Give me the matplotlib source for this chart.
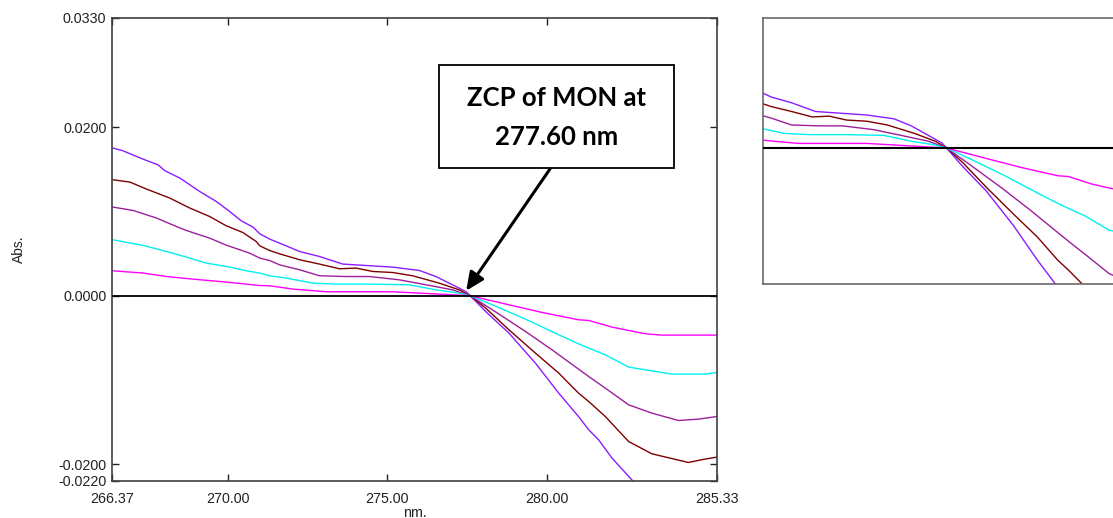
import numpy as np
import matplotlib
matplotlib.use('Agg')
import matplotlib.pyplot as plt
from matplotlib.patches import Rectangle

# ── Data (wavelength in nm, derivative Abs.) ─────────────────────────────────
violet_x = [266.40, 266.71, 267.34, 267.81, 268.03, 268.50, 269.12, 269.64, 270.06,
            270.42, 270.79, 271.00, 271.31, 271.62, 272.25, 272.87, 273.60, 274.33,
            275.16, 276.00, 276.52, 277.04, 277.46, 277.60, 278.08, 278.81, 279.64,
            280.37, 280.99, 281.31, 281.62, 282.04, 282.66, 283.00]
violet_y = [0.01755, 0.01723, 0.01624, 0.01556, 0.01485, 0.01398, 0.01239, 0.01120, 0.01001,
            0.00891, 0.00816, 0.00737, 0.00674, 0.00626, 0.00526, 0.00467, 0.00377, 0.00360,
            0.00341, 0.00301, 0.00229, 0.00131, 0.00051, 0.0, -0.00187, -0.00443, -0.00800,
            -0.01156, -0.01434, -0.01592, -0.01711, -0.01928, -0.02186, -0.02350]

brown_x = [266.40, 266.93, 267.45, 268.18, 268.81, 269.43, 269.95, 270.47, 270.89, 271.00,
           271.31, 271.62, 272.25, 272.87, 273.50, 274.02, 274.54, 275.16, 275.79, 276.62,
           277.25, 277.60, 278.08, 278.81, 279.64, 280.37, 280.99, 281.31, 281.83, 282.56,
           283.29, 284.43, 284.95, 285.33]
brown_y = [0.01378, 0.01351, 0.01268, 0.01161, 0.01042, 0.00942, 0.00832, 0.00752, 0.00645, 0.00594,
           0.00538, 0.00499, 0.00428, 0.00377, 0.00321, 0.00329, 0.00289, 0.00277, 0.00238, 0.00151,
           0.00071, 0.0, -0.00146, -0.00404, -0.00681, -0.00918, -0.01156, -0.01256, -0.01434, -0.01731,
           -0.01877, -0.01980, -0.01940, -0.01916]

purple_x = [266.40, 267.04, 267.77, 268.39, 268.70, 269.43, 269.95, 270.68, 271.00, 271.31,
            271.62, 272.25, 272.87, 273.71, 274.43, 275.37, 276.21, 277.04, 277.60, 278.29,
            279.33, 280.16, 280.99, 281.31, 281.83, 282.56, 283.29, 284.12, 284.75, 285.33]
purple_y = [0.01054, 0.01013, 0.00923, 0.00823, 0.00776, 0.00685, 0.00602, 0.00507, 0.00448, 0.00419,
            0.00368, 0.00309, 0.00238, 0.00229, 0.00229, 0.00190, 0.00131, 0.00071, 0.0, -0.00166,
            -0.00424, -0.00642, -0.00871, -0.00959, -0.01097, -0.01295, -0.01394, -0.01481, -0.01465, -0.01434]

cyan_x = [266.40, 267.35, 268.08, 268.70, 269.33, 270.06, 270.58, 271.00, 271.31, 271.83,
          272.66, 273.39, 274.43, 275.68, 276.52, 277.25, 277.60, 278.29, 279.33, 280.37,
          280.99, 281.31, 281.83, 282.56, 283.91, 284.95, 285.33]
cyan_y = [0.00665, 0.00598, 0.00526, 0.00460, 0.00388, 0.00341, 0.00297, 0.00270, 0.00238, 0.00210,
          0.00151, 0.00139, 0.00139, 0.00131, 0.00071, 0.00032, 0.0, -0.00107, -0.00277, -0.00463,
          -0.00570, -0.00621, -0.00701, -0.00847, -0.00930, -0.00930, -0.00911]

magenta_x = [266.40, 267.35, 268.08, 268.91, 269.75, 270.47, 271.00, 271.31, 272.04, 273.08,
             274.12, 275.16, 276.41, 277.46, 277.60, 278.81, 279.85, 280.99, 281.31, 282.04,
             283.08, 283.60, 285.33]
magenta_y = [0.00297, 0.00270, 0.00229, 0.00198, 0.00170, 0.00143, 0.00122, 0.00119, 0.00080, 0.00048,
             0.00048, 0.00048, 0.00024, 0.00004, 0.0, -0.00107, -0.00198, -0.00285, -0.00293, -0.00372,
             -0.00451, -0.00467, -0.00467]

series = [
    (violet_x, violet_y, '#8B1CFF'),
    (brown_x, brown_y, '#7F0000'),
    (purple_x, purple_y, '#9B1F9B'),
    (cyan_x, cyan_y, '#00F0F0'),
    (magenta_x, magenta_y, '#FF00FF'),
]

x_ticks = [266.37, 270.00, 275.00, 280.00, 285.33]
y_ticks = [-0.0220, -0.0200, 0.0000, 0.0200, 0.0330]
zcp_nm = 277.60
note_text = 'ZCP of MON at\n277.60 nm'

# ── Figure ───────────────────────────────────────────────────────────────────
plt.rcParams['font.family'] = ['Liberation Sans', 'DejaVu Sans']
fig = plt.figure(figsize=(11.13, 5.18), dpi=100)
fig.patch.set_facecolor('white')

# main panel
ax = fig.add_axes([112/1113, 37/518, 605/1113, 463/518])
for xs, ys, col in series:
    ax.plot(xs, ys, color=col, lw=1.0, zorder=2)
ax.axhline(0, color='black', lw=1.3, zorder=3)
ax.set_xlim(x_ticks[0], x_ticks[-1])
ax.set_ylim(y_ticks[0], y_ticks[-1])
ax.set_xticks(x_ticks)
ax.set_xticklabels([f'{v:.2f}' for v in x_ticks])
ax.set_yticks(y_ticks)
ax.set_yticklabels([f'{v:.4f}' for v in y_ticks])
ax.tick_params(direction='in', length=5, width=1, top=True, right=True,
               labelsize=10.3, colors='#222222')
ax.tick_params(axis='x', pad=8)
ax.tick_params(axis='y', pad=4)
for s in ax.spines.values():
    s.set_edgecolor('#404040'); s.set_linewidth(1.2)
ax.set_xlabel('nm.', fontsize=10.3, labelpad=0, color='#222222')
ax.set_ylabel('Abs.', fontsize=10, color='#222222')
ax.yaxis.set_label_coords(-0.143, 0.5)

# callout box + arrow to the zero crossing point
ax.add_patch(Rectangle((0.5405, 0.676), 0.3885, 0.2225, transform=ax.transAxes,
                       facecolor='white', edgecolor='black', lw=1.3, zorder=5))
ax.text(0.7347, 0.786, note_text, transform=ax.transAxes, ha='center', va='center',
        fontsize=18.5, fontweight='bold', family='Lato', linespacing=1.75, zorder=6)
ax.annotate('', xy=(zcp_nm - 0.13, 0.0006), xycoords='data',
            xytext=(0.724, 0.674), textcoords='axes fraction',
            arrowprops=dict(arrowstyle='-|>,head_length=1.1,head_width=0.5',
                            color='black', lw=2.2, shrinkA=0, shrinkB=0),
            zorder=6)

# right panel: magnified view around the crossing (cut off by the page edge)
ax2 = fig.add_axes([763/1113, 234/518, 370/1113, 266/518])
for xs, ys, col in series:
    ax2.plot(xs, ys, color=col, lw=1.0, zorder=2)
ax2.axhline(0, color='black', lw=1.5, zorder=3)
ax2.set_xlim(272.0, 283.28)
ax2.set_ylim(-0.0140, 0.0134)
ax2.set_xticks([]); ax2.set_yticks([])
for s in ax2.spines.values():
    s.set_edgecolor('#6a6a6a'); s.set_linewidth(1.2)

fig.savefig('out.png', dpi=100)
